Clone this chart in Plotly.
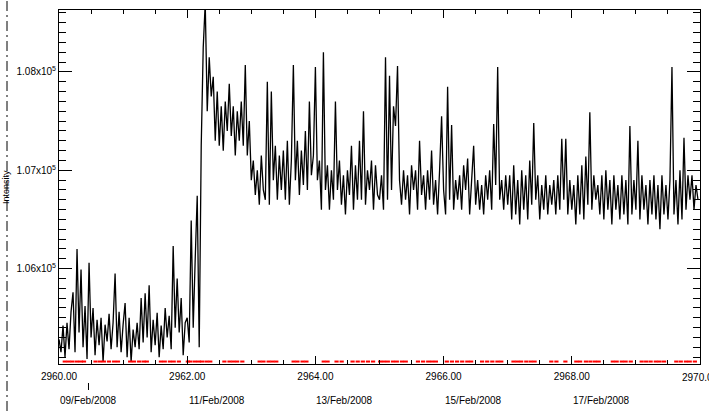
import numpy as np
import plotly.graph_objects as go

# intensity samples, 32 per day, starting at day 2960.00
day_2960 = [105280, 105150, 105420, 105100, 105450, 105180, 105560, 105760,
            105150, 106200, 105350, 105990, 105200, 105620, 105080, 106060,
            105300, 105600, 105120, 105480, 105220, 105500, 105050, 105430,
            105260, 105540, 105180, 105450, 105950, 105200, 105560, 105150]
day_2961 = [105430, 105650, 105100, 105500, 105050, 105380, 105200, 105450,
            105180, 105700, 105250, 105750, 105300, 105830, 105150, 105480,
            105220, 105550, 105100, 105420, 105180, 105600, 105300, 105520,
            105180, 106230, 105400, 105900, 105350, 105700, 105120, 105450]
day_2962 = [105500, 105250, 106490, 105400, 106100, 106740, 105200, 107250,
            108250, 108700, 107600, 108150, 107750, 107950, 107300, 107800,
            107250, 107650, 107200, 107700, 107400, 107880, 107350, 107650,
            107150, 107600, 107300, 107700, 107250, 108070, 107150, 107500]
day_2963 = [106900, 107100, 106750, 107000, 106650, 107150, 106800, 106700,
            107900, 106650, 107800, 106900, 107250, 106700, 107150, 106800,
            107200, 106700, 107300, 106650, 107100, 108070, 106900, 107300,
            106750, 107200, 106850, 107400, 106800, 107700, 106950, 107150]
day_2964 = [108050, 106900, 107100, 106600, 108200, 106800, 107050, 106600,
            107000, 106700, 107700, 106800, 107100, 106650, 106950, 106550,
            107000, 106750, 107250, 106600, 107050, 106700, 107300, 106700,
            107600, 106650, 107000, 106800, 107100, 106600, 107050, 106750]
day_2965 = [106700, 106950, 106600, 108150, 106700, 107960, 106800, 107650,
            107450, 108060, 106900, 106650, 107000, 106700, 106950, 106550,
            107050, 106800, 107000, 106600, 107300, 106750, 106950, 106600,
            107000, 106700, 107200, 106650, 106900, 106550, 107000, 107550]
day_2966 = [106800, 106550, 107850, 106700, 107460, 106600, 106900, 106700,
            106950, 106600, 107050, 106800, 107120, 106550, 106900, 107250,
            106650, 106900, 106600, 106850, 106550, 106950, 106700, 107000,
            106600, 107470, 106850, 108050, 106700, 106900, 106600, 106950]
day_2967 = [106650, 106950, 106500, 107050, 106550, 106900, 106450, 107000,
            106600, 106950, 106500, 107100, 106650, 107480, 106700, 106950,
            106500, 106850, 106600, 106950, 106550, 106850, 106650, 106900,
            106550, 106950, 106600, 107320, 106700, 107320, 106550, 106900]
day_2968 = [106600, 106850, 106450, 106950, 106550, 107050, 106500, 107140,
            106650, 107590, 106600, 106950, 106700, 106850, 106550, 106950,
            106500, 107000, 106600, 106900, 106450, 106950, 106600, 106850,
            106500, 106950, 106550, 106900, 106450, 107450, 106550, 106900]
day_2969 = [106600, 107300, 106500, 106950, 106600, 106850, 106450, 106900,
            106550, 106950, 106500, 106850, 106400, 106950, 106550, 106850,
            106500, 106900, 108050, 106550, 106900, 106450, 107000, 106500,
            107330, 106600, 106950, 106700, 106950, 106600, 106850, 106700]

start_day = 2960.0
samples_per_day = 32

# red flags along the bottom axis (day numbers)
flag_days = [2960.09, 2960.15, 2960.21, 2960.28, 2960.34, 2960.39,
             2960.57, 2960.64, 2960.70, 2960.78, 2960.86, 2960.92,
             2961.11, 2961.17, 2961.25, 2961.32, 2961.37,
             2961.59, 2961.65, 2961.73, 2961.79, 2961.87,
             2962.01, 2962.05, 2962.12, 2962.18, 2962.23, 2962.30, 2962.36,
             2962.58, 2962.66, 2962.72, 2962.78, 2962.86,
             2963.13, 2963.19, 2963.27, 2963.33, 2963.39,
             2963.66, 2963.72, 2963.80, 2963.86,
             2964.13, 2964.19, 2964.33, 2964.41,
             2964.58, 2964.66, 2964.74, 2964.82, 2964.90, 2965.01,
             2965.07, 2965.13, 2965.21, 2965.27, 2965.35, 2965.41,
             2965.60, 2965.68, 2965.76, 2965.82, 2965.88,
             2966.05, 2966.13, 2966.21, 2966.29, 2966.37, 2966.43,
             2966.60, 2966.68, 2966.76, 2966.84, 2966.90,
             2967.09, 2967.15, 2967.21, 2967.29, 2967.36, 2967.42,
             2967.68, 2967.76, 2967.90,
             2968.07, 2968.13, 2968.22, 2968.29, 2968.36, 2968.42,
             2968.64, 2968.70, 2968.78, 2968.84, 2968.92,
             2969.09, 2969.16, 2969.23, 2969.31, 2969.37, 2969.44,
             2969.63, 2969.70, 2969.78, 2969.84, 2969.92]

# calendar labels under the day-number axis
date_days = [2960.46, 2962.46, 2964.46, 2966.46, 2968.46]
date_labels = ['09/Feb/2008', '11/Feb/2008', '13/Feb/2008', '15/Feb/2008', '17/Feb/2008']

# y tick labels written the IDL way
y_label_alias = {'106000': '1.06x10<sup>5</sup>',
                 '107000': '1.07x10<sup>5</sup>',
                 '108000': '1.08x10<sup>5</sup>'}

x_min, x_max = 2960, 2970
y_min, y_max = 105030, 108630

# join the days into one series
intensity = (day_2960 + day_2961 + day_2962 + day_2963 + day_2964 +
             day_2965 + day_2966 + day_2967 + day_2968 + day_2969)
days = start_day + np.arange(len(intensity)) / samples_per_day

font = dict(family='Liberation Sans, Arial, sans-serif', size=10, color='black')

fig = go.Figure()
fig.add_trace(go.Scatter(x=days, y=intensity, mode='lines',
                         line=dict(color='black', width=1.3), hoverinfo='skip'))
fig.add_trace(go.Scatter(x=flag_days, y=[y_min + 25] * len(flag_days), mode='markers',
                         marker=dict(symbol='line-ew', size=3, color='red',
                                     line=dict(color='red', width=2)),
                         cliponaxis=False, hoverinfo='skip'))

fig.update_xaxes(range=[x_min, x_max], tickmode='linear', tick0=2960, dtick=2, tickformat='.2f',
                 ticks='inside', ticklen=8, tickwidth=1, tickcolor='black',
                 minor=dict(tickmode='linear', dtick=0.5, ticks='inside', ticklen=4,
                            tickwidth=1, tickcolor='black'),
                 showline=True, linecolor='black', linewidth=1, mirror='ticks',
                 showgrid=False, zeroline=False, tickfont=font, ticklabelstandoff=3)
fig.update_yaxes(range=[y_min, y_max], tickmode='linear', tick0=106000, dtick=1000,
                 tickformat='d', labelalias=y_label_alias,
                 ticks='inside', ticklen=13, tickwidth=1, tickcolor='black',
                 minor=dict(tickmode='linear', dtick=100, ticks='inside', ticklen=7,
                            tickwidth=1, tickcolor='black'),
                 showline=True, linecolor='black', linewidth=1, mirror='ticks',
                 showgrid=False, zeroline=False, tickfont=font)

# plot area is 354 px tall, 641 px wide
h, w = 354.0, 641.0
annotations = []
for d, lab in zip(date_days, date_labels):
    annotations.append(dict(x=d, y=-36 / h, xref='x', yref='paper', text=lab,
                            showarrow=False, font=font, xanchor='center', yanchor='middle'))
# last day-number label, runs off the right edge like the original
annotations.append(dict(x=x_max, y=-13 / h, xref='x', yref='paper', text='%.2f' % x_max,
                        showarrow=False, font=font, xanchor='center', yanchor='middle'))
annotations.append(dict(x=-53 / w, y=0.50, xref='paper', yref='paper', text='Intensity',
                        textangle=-90, showarrow=False,
                        font=dict(family=font['family'], size=9, color='black'),
                        xanchor='center', yanchor='middle'))

shapes = [
    # dash-dot rule at the far left
    dict(type='line', xref='paper', yref='paper', x0=-52 / w, x1=-52 / w,
         y0=-47 / h, y1=1 + 10 / h, line=dict(color='black', width=1, dash='10px,4px,2px,4px')),
    # single tick on the calendar axis
    dict(type='line', xref='x', yref='paper', x0=date_days[0], x1=date_days[0],
         y0=-19 / h, y1=-26 / h, line=dict(color='black', width=1)),
]

fig.update_layout(width=709, height=411, margin=dict(l=59, r=9, t=10, b=47),
                  plot_bgcolor='white', paper_bgcolor='white', showlegend=False,
                  annotations=annotations, shapes=shapes)

# drop the page margin so the figure sits at the window corner
fig.write_html("out.html", config={'displayModeBar': False},
               post_script="document.body.style.margin='0px';")
